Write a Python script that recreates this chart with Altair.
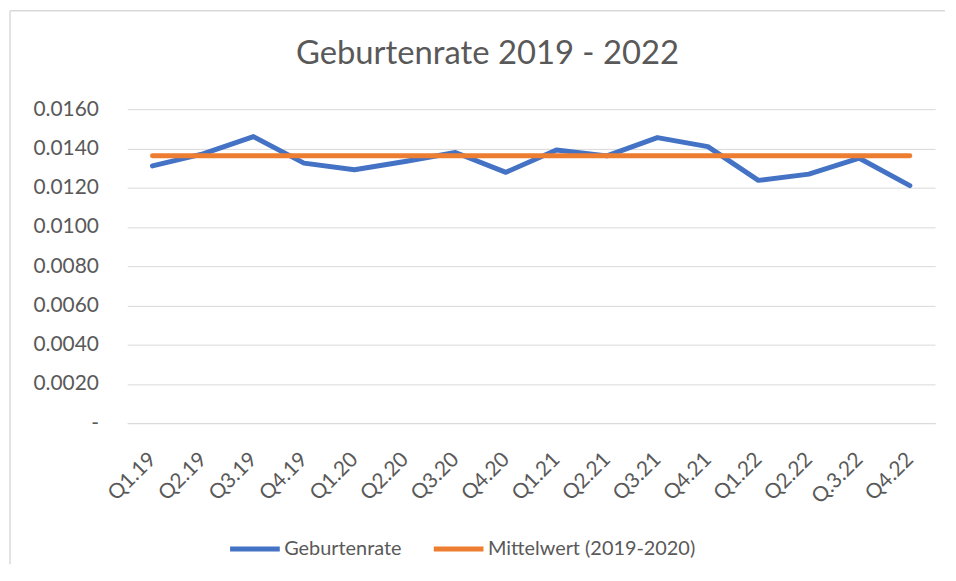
import altair as alt
import pandas as pd

quarters = ["Q1.19", "Q2.19", "Q3.19", "Q4.19", "Q1.20", "Q2.20", "Q3.20", "Q4.20",
            "Q1.21", "Q2.21", "Q3.21", "Q4.21", "Q1.22", "Q2.22", "Q.3.22", "Q4.22"]
geburtenrate = [0.01311, 0.01372, 0.01460, 0.01325, 0.01291, 0.01333, 0.01379, 0.01278,
                0.01392, 0.01362, 0.01455, 0.01409, 0.01237, 0.01269, 0.01350, 0.01210]
mittelwert = [0.01362] * 16
series_names = ["Geburtenrate", "Mittelwert (2019-2020)"]
series_colors = ["#4472C4", "#ED7D31"]

rows = []
for q, g, m in zip(quarters, geburtenrate, mittelwert):
    rows.append({"Quartal": q, "Serie": series_names[0], "Wert": g})
    rows.append({"Quartal": q, "Serie": series_names[1], "Wert": m})
df = pd.DataFrame(rows)

FONT = "Lato"
GREY = "#595959"
W, H = 813, 316

lines = alt.Chart(df).mark_line(strokeWidth=5, strokeCap="round", strokeJoin="round").encode(
    x=alt.X("Quartal:N", sort=quarters,
            scale=alt.Scale(type="point", padding=0.5),
            axis=alt.Axis(title=None, labelAngle=-45, labelAlign="right", labelBaseline="middle",
                          labelPadding=33, ticks=False, domainColor="#d9d9d9", domainWidth=1,
                          labelFont=FONT, labelFontSize=21, labelColor=GREY, grid=False)),
    y=alt.Y("Wert:Q", scale=alt.Scale(domain=[0, 0.016]),
            axis=alt.Axis(title=None, values=[0, 0.002, 0.004, 0.006, 0.008, 0.01, 0.012, 0.014, 0.016],
                          labelExpr="datum.value == 0 ? '-\u00a0\u00a0' : format(datum.value, '.4f')",
                          labelPadding=29, ticks=False, domain=False, gridColor="#d9d9d9",
                          gridWidth=1, labelFont=FONT, labelFontSize=21, labelColor=GREY)),
    color=alt.Color("Serie:N", scale=alt.Scale(domain=series_names, range=series_colors),
                    legend=alt.Legend(title=None, orient="none", direction="horizontal",
                                      legendX=101, legendY=415, symbolType="stroke",
                                      symbolSize=2500, symbolStrokeWidth=5, labelFont=FONT,
                                      labelFontSize=20, labelColor=GREY, labelOffset=2,
                                      labelLimit=400, columnPadding=21)),
)

frame_df = pd.DataFrame({"k": [0]})
left_edge = alt.Chart(frame_df).mark_rule(color="#d9d9d9", strokeWidth=1.5).encode(
    x=alt.value(-118), y=alt.value(-99), y2=alt.value(H + 142))
top_edge = alt.Chart(frame_df).mark_rule(color="#d9d9d9", strokeWidth=1.5).encode(
    x=alt.value(-118), x2=alt.value(W + 10), y=alt.value(-99))

chart = alt.layer(left_edge, top_edge, lines).properties(
    width=W, height=H,
    title=alt.TitleParams("Geburtenrate 2019 - 2022", font=FONT, fontSize=33, fontWeight="normal",
                          color=GREY, offset=-61, frame="bounds", anchor="middle", dx=10),
    padding={"left": 1, "top": 0, "right": 2, "bottom": 0},
).configure(background="white").configure_view(stroke=None)

chart.save("out.html", embed_options={"renderer": "svg", "actions": False})
